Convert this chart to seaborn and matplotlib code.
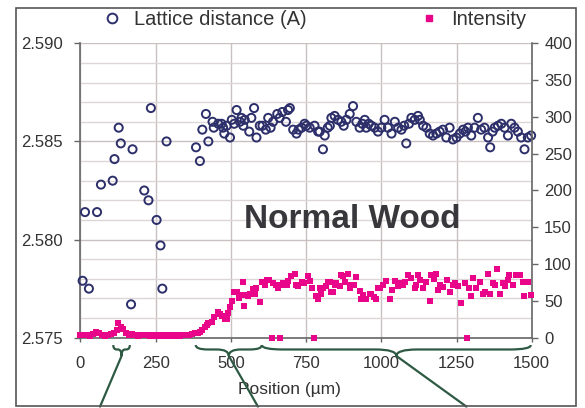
import matplotlib
matplotlib.use("Agg")
import matplotlib.pyplot as plt
from matplotlib.lines import Line2D
from matplotlib.path import Path
from matplotlib.patches import PathPatch, Rectangle
import matplotlib.transforms as mtransforms
import pandas as pd
import seaborn as sns

# lattice distance (A) vs position (um)
lattice_pos = [7, 15, 28, 55, 68, 107, 113, 127, 134, 168, 173, 212, 226, 234, 253, 266, 272, 286,
               384, 397, 405, 417, 425, 439, 443, 458, 469, 474, 478, 486, 497, 503, 511, 519,
               530, 535, 541, 546, 561, 568, 577, 585, 596, 605, 616, 624, 632, 640, 654, 662,
               671, 683, 690, 696, 707, 718, 725, 735, 745, 751, 762, 778, 790, 795, 806, 812,
               822, 829, 834, 845, 856, 867, 875, 884, 895, 906, 917, 928, 937, 945, 950, 958,
               967, 978, 989, 1000, 1011, 1022, 1034, 1045, 1056, 1067, 1076, 1083, 1092, 1100,
               1111, 1122, 1128, 1139, 1150, 1161, 1172, 1183, 1194, 1205, 1216, 1227, 1238, 1250,
               1261, 1272, 1280, 1288, 1299, 1310, 1321, 1332, 1343, 1355, 1362, 1370, 1377, 1388,
               1399, 1410, 1421, 1432, 1443, 1454, 1465, 1476, 1487, 1498]
lattice_val = [2.5779, 2.5814, 2.5775, 2.5814, 2.5828, 2.5830, 2.5841, 2.5857, 2.5849, 2.5767,
               2.5846, 2.5825, 2.5820, 2.5867, 2.5810, 2.5797, 2.5775, 2.5850,
               2.5847, 2.5840, 2.5856, 2.5864, 2.5850, 2.5860, 2.5857, 2.5859, 2.5859, 2.5857,
               2.5854, 2.5858, 2.5852, 2.5861, 2.5859, 2.5866,
               2.5860, 2.5862, 2.5858, 2.5861, 2.5855, 2.5862, 2.5867, 2.5852, 2.5858, 2.5858,
               2.5856, 2.5862, 2.5857, 2.5860, 2.5864, 2.5862,
               2.5865, 2.5860, 2.5866, 2.5867, 2.5856, 2.5854, 2.5856, 2.5857, 2.5859, 2.5858,
               2.5857, 2.5858, 2.5855, 2.5855, 2.5846, 2.5853,
               2.5857, 2.5858, 2.5862, 2.5863, 2.5861, 2.5860, 2.5858, 2.5861, 2.5864, 2.5868,
               2.5860, 2.5857, 2.5859, 2.5861, 2.5857, 2.5859,
               2.5858, 2.5857, 2.5855, 2.5857, 2.5861, 2.5857, 2.5854, 2.5860, 2.5857, 2.5856,
               2.5858, 2.5849, 2.5859, 2.5862,
               2.5861, 2.5863, 2.5861, 2.5858, 2.5857, 2.5854, 2.5853, 2.5854, 2.5855, 2.5856,
               2.5852, 2.5857, 2.5851, 2.5852,
               2.5854, 2.5856, 2.5855, 2.5857, 2.5853, 2.5857, 2.5862, 2.5856, 2.5857, 2.5852,
               2.5847, 2.5855, 2.5857, 2.5858,
               2.5859, 2.5857, 2.5853, 2.5859, 2.5857, 2.5855, 2.5852, 2.5846, 2.5852, 2.5853]

# intensity (counts) vs position (um)
intensity_pos = [0, 10, 20, 30, 40, 50, 60, 70, 80, 90, 100, 110, 120, 126, 135, 142, 150, 160,
                 170, 180, 190, 200, 210, 220, 230, 240, 250, 260, 270, 280, 290, 300, 310, 320,
                 330, 340, 350, 360, 370, 380,
                 390, 397, 405, 413, 419, 425, 436, 445, 458, 465, 472, 480, 486, 490, 497, 502,
                 511, 519, 527, 535, 541, 543, 550, 557, 565, 572, 580, 585, 596, 605, 612, 620,
                 628, 635, 640, 650, 657, 663, 668, 674, 685, 690, 701, 712, 718, 723, 735, 742,
                 757, 763, 768, 777, 784, 790, 795, 801, 806, 815, 823, 829, 834, 840, 845, 851,
                 862, 867, 873, 878, 889, 895, 900, 908, 915, 928, 934, 940, 950, 961, 967, 975,
                 984, 989, 995, 1006, 1015, 1028, 1034, 1045, 1055, 1061, 1072, 1080, 1089, 1100,
                 1111, 1117, 1122, 1128, 1139, 1150, 1161, 1166, 1175, 1183, 1189, 1195, 1206, 1217,
                 1227, 1238, 1245, 1255, 1266, 1277, 1285, 1290, 1299, 1305, 1316, 1327, 1338, 1346,
                 1354, 1360, 1370, 1377, 1384, 1393, 1404, 1412, 1421, 1426, 1437, 1449, 1460, 1471,
                 1476, 1487, 1498]
intensity_val = [3, 3, 4, 2, 5, 8, 6, 3, 2, 4, 5, 6, 10, 20, 15, 12, 6, 4,
                 5, 3, 2, 3, 4, 3, 2, 3, 2, 3, 2, 3, 2, 3, 2, 3,
                 2, 3, 3, 4, 5, 6,
                 6, 8, 10, 15, 17, 20, 22, 28, 35, 32, 30, 26, 26, 34, 42, 50,
                 62, 62, 54, 58, 76, 43, 58, 56, 60, 66, 60, 68, 48, 76, 72, 79,
                 78, 0, 74, 72, 67, 0, 72, 74, 72, 77, 84, 87, 72, 70, 76, 74,
                 84, 77, 67, 0, 56, 52, 67, 60, 67, 70, 76, 76, 62, 62, 72, 74,
                 70, 85, 84, 76, 87, 67, 72, 72, 82, 64, 53, 58, 53, 60, 60, 55,
                 53, 67, 67, 72, 77, 53, 65, 77, 70, 74, 72, 75, 85, 81,
                 67, 72, 85, 78, 67, 76, 50, 85, 80, 87, 65, 72, 69, 78,
                 62, 72, 74, 70, 47, 74, 0, 68, 56, 81, 67, 76, 60, 62,
                 87, 60, 74, 72, 94, 60, 74, 70, 78, 85, 72, 85, 85, 76,
                 56, 76, 58]

x_ticks = [0, 250, 500, 750, 1000, 1250, 1500]
left_ticks = [2.575, 2.580, 2.585, 2.590]
right_ticks = [0, 50, 100, 150, 200, 250, 300, 350, 400]

navy = "#2d2f6b"
magenta = "#e8058a"
brace_green = "#2e5a44"
text_col = "#333333"

sns.set_theme(style="white")
plt.rcParams["font.family"] = ["Liberation Sans", "DejaVu Sans"]

lat_df = pd.DataFrame({"pos": lattice_pos, "val": lattice_val})
int_df = pd.DataFrame({"pos": intensity_pos, "val": intensity_val})

fig = plt.figure(figsize=(5.85, 4.08), dpi=100)
ax = fig.add_axes([0.1376, 0.1723, 0.7713, 0.7216])
ax2 = ax.twinx()

# grid on the left axis
ax.set_axisbelow(True)
ax.set_xlim(0, 1500)
ax.set_ylim(2.575, 2.590)
ax.set_xticks(x_ticks)
ax.set_yticks(left_ticks)
ax.set_yticks([2.576, 2.577, 2.578, 2.579, 2.581, 2.582, 2.583, 2.584,
               2.586, 2.587, 2.588, 2.589], minor=True)
ax.set_yticklabels([f"{v:.3f}" for v in left_ticks])
ax.grid(True, which="major", color="#c9c0c0", lw=1.0)
ax.grid(True, which="minor", axis="y", color="#dcd6d6", lw=1.0)

sns.scatterplot(data=lat_df, x="pos", y="val", ax=ax, marker="o", s=34,
                facecolor="none", edgecolor=navy, linewidth=1.4, clip_on=False, zorder=3)
sns.scatterplot(data=int_df, x="pos", y="val", ax=ax2, marker="s", s=25,
                color=magenta, linewidth=0, clip_on=False, zorder=3)

ax2.set_ylim(0, 400)
ax2.set_yticks(right_ticks)
ax.set_ylabel("")
ax2.set_ylabel("")
ax.set_xlabel("Position (µm)", fontsize=12.5, color=text_col)
ax.xaxis.set_label_coords(0.464, -0.15)

for s in ["top", "right"]:
    ax.spines[s].set_visible(False)
for s in ["top", "left", "bottom"]:
    ax2.spines[s].set_visible(False)
for sp in [ax.spines["left"], ax.spines["bottom"], ax2.spines["right"]]:
    sp.set_color("#666666")
    sp.set_linewidth(1.2)

ax.tick_params(axis="y", which="major", direction="out", length=4.5, width=1, color="#666666",
               pad=8, labelsize=12, labelcolor=text_col, left=True)
ax.tick_params(axis="y", which="minor", length=0)
ax.tick_params(axis="x", direction="out", length=3, width=1, color="#666666",
               pad=10, labelsize=12, labelcolor=text_col, bottom=True)
ax2.tick_params(axis="y", direction="out", length=4, width=1, color="#666666",
                pad=5, labelsize=12, labelcolor=text_col, right=True)

ax.text(0.602, 0.40, "Normal Wood", transform=ax.transAxes, ha="center", va="center",
        fontsize=24, fontweight="bold", color="#38383c")

handles = [Line2D([], [], ls="none", marker="o", ms=7, mfc="none", mec=navy, mew=1.4),
           Line2D([], [], ls="none", marker="s", ms=5, color=magenta)]
fig.legend(handles, ["Lattice distance (A)", "Intensity"], loc="center",
           bbox_to_anchor=(0.537, 0.951), ncol=2, frameon=False, fontsize=14.5,
           handlelength=1.0, handletextpad=0.6, columnspacing=5.6, labelcolor=text_col)

# braces under the x axis with pointer lines
trans = mtransforms.blended_transform_factory(ax.transData, ax.transAxes)


def brace(x0, x1, r, y_top=-0.025, y_mid=-0.040, y_tip=-0.062, x_end=None):
    xm = (x0 + x1) / 2
    verts = [(x0, y_top), (x0, y_mid), (x0 + r, y_mid), (xm - r, y_mid),
             (xm, y_mid), (xm, y_tip), (xm, y_mid), (xm + r, y_mid),
             (x1 - r, y_mid), (x1, y_mid), (x1, y_top)]
    codes = [Path.MOVETO, Path.CURVE3, Path.CURVE3, Path.LINETO,
             Path.CURVE3, Path.CURVE3, Path.CURVE3, Path.CURVE3,
             Path.LINETO, Path.CURVE3, Path.CURVE3]
    ax.add_patch(PathPatch(Path(verts, codes), transform=trans, fc="none", ec=brace_green,
                           lw=1.6, clip_on=False, zorder=6))
    ax.add_line(Line2D([xm, x_end], [y_tip, -0.234], transform=trans, color=brace_green,
                       lw=1.6, clip_on=False, zorder=6))


brace(109, 164, 12, x_end=65)
brace(383, 603, 40, x_end=590)
brace(603, 1497, 70, x_end=1283)

fig.patches.append(Rectangle((0.0274, 0.0049), 0.957, 0.9755, transform=fig.transFigure,
                             fill=False, ec="#555555", lw=1.2))

fig.savefig("out.png", dpi=100)
